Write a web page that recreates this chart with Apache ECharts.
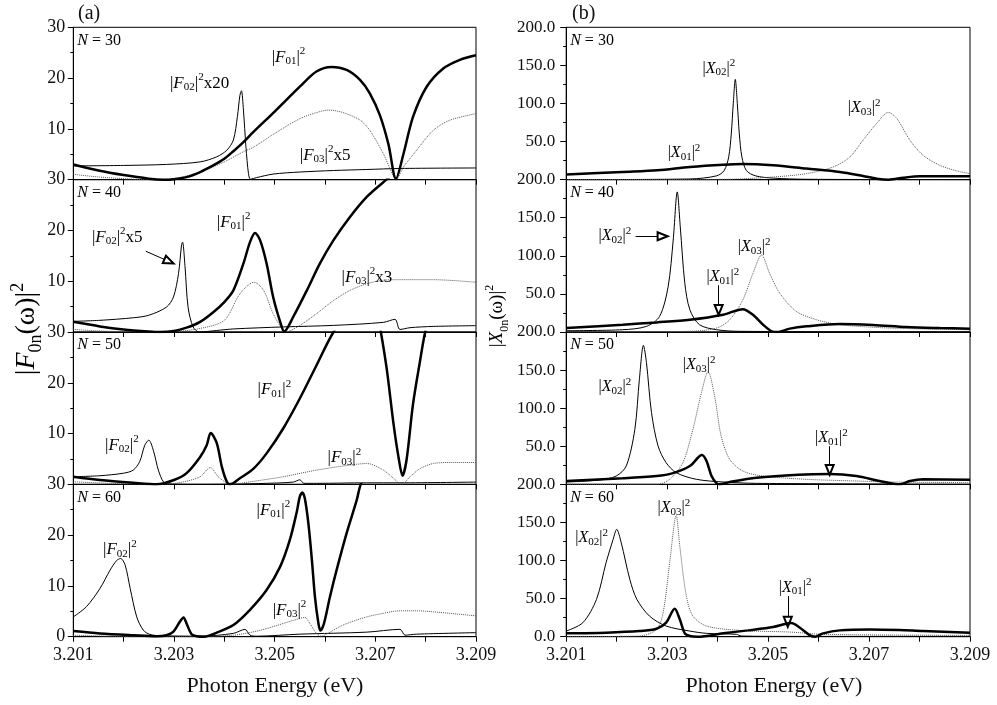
<!DOCTYPE html>
<html>
<head>
<meta charset="utf-8">
<script src="https://cdn.jsdelivr.net/npm/echarts/dist/echarts.min.js"></script>
<style>
  html, body { margin: 0; padding: 0; background: #fff; }
  #chart { width: 997px; height: 705px; }
</style>
</head>
<body>
<div id="chart"></div>
<script>
// ---- axes ----
const energyRange = [3.201, 3.209];
const energyStep = 0.001;
const energyLabels = [3.201, 3.203, 3.205, 3.207, 3.209];
const fRange = [0, 30];
const fStep = 10;
const xRange = [0, 200];
const xStep = 50;
const cavitySizes = [30, 40, 50, 60];

// ---- mode energies (vertical lines), eV ----
const modes_N30 = [3.2028, 3.2045, 3.2074];
const modes_N40 = [3.2025, 3.2035, 3.2052, 3.2075];
const modes_N50 = [3.2024, 3.2031, 3.2041, 3.2056, 3.2076];
const modes_N60 = [3.2024, 3.2028, 3.2036, 3.2046, 3.2060, 3.2076];

// ---- (a) |F0n(w)|^2, [energy, value] ----
const F01_N30 = [[3.2010,3.0],[3.2015,1.8],[3.2020,0.9],[3.2025,0.2],[3.20279,0],[3.2030,0.1],[3.20325,0.5],[3.20352,1.5],[3.20378,2.8],[3.2040,4.1],[3.20418,5.6],[3.20438,7.4],[3.20458,9.4],[3.2050,13.4],[3.2055,18.3],[3.20583,21.3],[3.20613,22.2],[3.20643,21.6],[3.2067,19.6],[3.20689,17.0],[3.20709,12.7],[3.20726,7.0],[3.20741,0.2],[3.20756,5.1],[3.20775,12.4],[3.20802,18.3],[3.20835,21.9],[3.20868,23.6],[3.209,24.5]];
const F02_N30 = [[3.2010,2.7],[3.2020,2.8],[3.20285,3.0],[3.20352,3.5],[3.20385,4.5],[3.20405,5.8],[3.20418,7.8],[3.20426,12.4],[3.20431,16.6],[3.20434,17.5],[3.20438,13.7],[3.20443,6.4],[3.20448,1.2],[3.20452,0.1],[3.20464,0.4],[3.20497,1.1],[3.2055,1.5],[3.20617,1.8],[3.20683,2.0],[3.20749,2.2],[3.209,2.3]];
const F03_N30 = [[3.2010,1.05],[3.20153,0.5],[3.20219,0.1],[3.20259,0],[3.20299,0.2],[3.20352,1.5],[3.2040,3.5],[3.20438,5.5],[3.20458,6.4],[3.2050,9.1],[3.2055,12.0],[3.20583,13.2],[3.20607,13.7],[3.20636,13.2],[3.2067,11.7],[3.20689,9.7],[3.20716,5.1],[3.20729,2.2],[3.20741,0],[3.20756,2.5],[3.20782,5.8],[3.20815,9.7],[3.20848,11.7],[3.209,13.0]];

const F01_N40 = [[3.2010,2.0],[3.20153,1.1],[3.2020,0.5],[3.2025,0.1],[3.20272,0],[3.2030,0.2],[3.20325,0.85],[3.20352,2.0],[3.20378,3.9],[3.2040,5.9],[3.20418,8.2],[3.20438,13.5],[3.20451,17.7],[3.20461,19.5],[3.20471,18.1],[3.20484,13.5],[3.20497,6.9],[3.20511,2.0],[3.20519,0.1],[3.20537,3.0],[3.20564,8.2],[3.2059,13.5],[3.20617,18.1],[3.2065,22.7],[3.20683,26.6],[3.20716,29.5],[3.20749,32],[3.20815,35],[3.209,37]];
const F02_N40 = [[3.2010,2.1],[3.20153,2.3],[3.20219,2.8],[3.2025,3.3],[3.20285,4.9],[3.20299,6.9],[3.20309,11.5],[3.20315,17.1],[3.20317,17.7],[3.20322,12.8],[3.20328,4.9],[3.20338,1.0],[3.2035,0],[3.20385,0.3],[3.20418,0.6],[3.20517,1.0],[3.20617,1.3],[3.20716,1.9],[3.20739,2.5],[3.20749,0.5],[3.20769,0.85],[3.20815,1.1],[3.209,1.25]];
const F03_N40 = [[3.2010,0.5],[3.20153,0.2],[3.20219,0],[3.2030,0.1],[3.20352,0.7],[3.2040,2.3],[3.20431,7.5],[3.20459,9.8],[3.20478,8.2],[3.20497,3.6],[3.20514,0.7],[3.20521,0],[3.2055,1.3],[3.20583,3.6],[3.20617,6.2],[3.2065,8.2],[3.20683,9.5],[3.20716,10.2],[3.20749,10.3],[3.20815,10.3],[3.209,9.8]];

const F01_N50 = [[3.2010,1.5],[3.20153,0.85],[3.20219,0.3],[3.20266,0],[3.2030,0.85],[3.20325,2.2],[3.20352,5.4],[3.20365,7.7],[3.20373,10.1],[3.20385,8.1],[3.20395,3.5],[3.20405,0.5],[3.20411,0],[3.20431,1.2],[3.20458,3.1],[3.20484,6.1],[3.20517,11.0],[3.2055,16.9],[3.20583,23.4],[3.20617,30.0],[3.2065,34],[3.20683,36],[3.20703,34],[3.20711,30],[3.20723,22.5],[3.20736,12.0],[3.20746,5.4],[3.20754,1.7],[3.20762,4.8],[3.20775,15.9],[3.20789,24.4],[3.20799,30],[3.20815,36],[3.209,40]];
const F02_N50 = [[3.2010,1.5],[3.20153,1.7],[3.2020,2.2],[3.20219,2.8],[3.20232,4.5],[3.20242,7.7],[3.2025,8.7],[3.20259,6.7],[3.20269,2.8],[3.20279,0.5],[3.20289,0.1],[3.20352,0],[3.20418,0.05],[3.20484,0.2],[3.20537,0.45],[3.2055,0.9],[3.20558,0.2],[3.20583,0.2],[3.20683,0.3],[3.20749,0.3],[3.209,0.45]];
const F03_N50 = [[3.2010,0.5],[3.20173,0.2],[3.20239,0],[3.20285,0.05],[3.20319,0.5],[3.20352,1.5],[3.20372,3.3],[3.20388,1.5],[3.20405,0.2],[3.20411,0],[3.20451,0.5],[3.20517,1.5],[3.20583,2.8],[3.2065,3.8],[3.20683,4.1],[3.20716,2.8],[3.20736,1.2],[3.20752,0],[3.20769,1.5],[3.20789,3.1],[3.20815,4.1],[3.20848,4.3],[3.209,4.3]];

const F01_N60 = [[3.2010,1.1],[3.20153,0.65],[3.20219,0.3],[3.20266,0.1],[3.20285,0.3],[3.20299,1.0],[3.20312,3.0],[3.20319,3.8],[3.20325,2.6],[3.20335,0.5],[3.20345,0.1],[3.2036,0],[3.20385,0.8],[3.20418,2.3],[3.20451,5.3],[3.20484,9.2],[3.20511,13.8],[3.2053,19.0],[3.20544,24.6],[3.2055,27.6],[3.20555,28.4],[3.2056,27.2],[3.20567,22.3],[3.20574,15.1],[3.2058,7.9],[3.20587,2.6],[3.20591,1.2],[3.20598,2.6],[3.2061,7.9],[3.20623,13.1],[3.20643,20.4],[3.20663,26.9],[3.20671,30],[3.20683,32],[3.20749,38],[3.209,45]];
const F02_N60 = [[3.2010,3.9],[3.20126,5.9],[3.20153,9.5],[3.20173,13.1],[3.20186,15.0],[3.20194,15.4],[3.20203,14.1],[3.20213,9.5],[3.20226,3.9],[3.20239,1.3],[3.20252,0.45],[3.20272,0.2],[3.20352,0.1],[3.20418,0.65],[3.20441,1.45],[3.20451,0.3],[3.20464,0.1],[3.2055,0.5],[3.20683,0.9],[3.20749,1.45],[3.20759,0.3],[3.20782,0.5],[3.209,0.8]];
const F03_N60 = [[3.2010,0.3],[3.20173,0.1],[3.20239,0],[3.20299,0.1],[3.20352,0.05],[3.20418,0.3],[3.2046,1.0],[3.20484,1.6],[3.20517,2.6],[3.2055,3.6],[3.2056,3.8],[3.2057,2.6],[3.20583,0.65],[3.20593,0.1],[3.20603,0.5],[3.20636,2.3],[3.20683,3.9],[3.20716,4.6],[3.20749,5.1],[3.20782,5.1],[3.20815,4.9],[3.20848,4.6],[3.209,4.1]];

// ---- (b) |X0n(w)|^2, [energy, value] ----
const X01_N30 = [[3.2010,6.6],[3.20212,10.1],[3.20281,12.3],[3.20345,16.7],[3.20411,19.7],[3.2045,20.6],[3.2051,18.9],[3.20576,14.5],[3.20642,10.1],[3.20688,4.8],[3.20715,1.3],[3.20739,0],[3.20768,2.6],[3.20801,4.4],[3.2084,4.4],[3.209,4.4]];
const X02_N30 = [[3.2010,0],[3.20345,0.9],[3.20398,5],[3.20413,12],[3.20422,30],[3.20427,60],[3.20431,100],[3.20435,131.6],[3.20439,100],[3.20443,60],[3.20448,30],[3.20457,12],[3.20475,5],[3.2051,2],[3.20576,0.5],[3.209,0]];
const X03_N30 = [[3.2010,0],[3.20411,0.4],[3.2051,3.5],[3.20576,7.9],[3.20629,16.7],[3.20662,29.8],[3.20688,51.8],[3.20715,73.7],[3.20738,88.2],[3.20755,80.3],[3.20781,51.8],[3.20807,32],[3.2084,18.9],[3.20874,11.4],[3.209,7.9]];

const X01_N40 = [[3.2010,5.2],[3.20212,9.6],[3.20279,12.6],[3.20345,16.1],[3.20411,22.7],[3.2045,30],[3.2047,22.7],[3.2049,9.6],[3.20507,0.9],[3.20519,0],[3.20543,4.4],[3.20576,7.4],[3.20642,10.5],[3.20708,9.2],[3.20774,6.5],[3.2084,5.2],[3.209,4.4]];
const X02_N40 = [[3.2010,1.7],[3.20212,3.0],[3.20259,7.4],[3.20285,20.5],[3.20302,59.7],[3.20312,120.7],[3.2032,183.9],[3.20326,138],[3.20335,64],[3.20345,29.2],[3.20364,9.6],[3.20398,3.0],[3.20444,0.9],[3.209,0]];
const X03_N40 = [[3.2010,0],[3.20345,0.9],[3.20398,5.2],[3.20424,16.1],[3.2045,42.3],[3.2047,77],[3.20487,101],[3.20503,77],[3.20523,51],[3.20556,27],[3.20596,16.1],[3.20642,9.6],[3.20741,5.2],[3.209,3.0]];

const X01_N50 = [[3.2010,4.4],[3.20212,7.9],[3.20279,10.9],[3.2031,14.4],[3.20345,24.1],[3.20369,38.5],[3.20378,30.6],[3.20388,10.9],[3.20398,1.3],[3.20404,0],[3.20424,3.1],[3.20477,8.8],[3.2056,12.7],[3.20622,13.6],[3.20675,10.9],[3.20721,4.4],[3.2076,0],[3.20781,4.4],[3.20807,6.6],[3.209,6.1]];
const X02_N50 = [[3.2010,3.1],[3.20166,5.7],[3.20199,10.9],[3.20219,24.1],[3.20236,72.2],[3.20245,137.9],[3.20253,182.5],[3.20259,159.7],[3.20269,94.1],[3.20282,50.3],[3.20298,28.4],[3.20318,15.3],[3.20358,6.6],[3.20411,3.1],[3.20477,1.3],[3.209,0]];
const X03_N50 = [[3.2010,0],[3.20279,0],[3.20305,6.6],[3.20331,28.4],[3.20351,72.2],[3.20368,120.4],[3.20381,147.9],[3.20394,116],[3.20407,63.5],[3.20424,32.8],[3.2045,17.5],[3.2049,10.9],[3.20576,6.6],[3.20675,4.4],[3.20741,3.1],[3.209,2.2]];

const X01_N60 = [[3.2010,4.4],[3.20179,5.3],[3.20245,7.4],[3.20279,10.5],[3.20298,18.4],[3.20315,36.8],[3.20325,22.8],[3.20335,4.4],[3.20345,0.9],[3.2036,0],[3.20411,4.4],[3.2046,8.3],[3.2051,12.7],[3.20546,17.9],[3.20563,11.8],[3.20583,1.75],[3.20593,0],[3.20609,4.4],[3.20642,8.3],[3.20702,9.6],[3.2076,8.8],[3.20807,7.4],[3.209,5.3]];
const X02_N60 = [[3.2010,7.4],[3.20133,18.4],[3.2016,49],[3.20179,97.2],[3.20193,127.8],[3.202,140.9],[3.20209,123.4],[3.20226,75.3],[3.2024,49],[3.20265,27.1],[3.20298,14.0],[3.20345,7.4],[3.20378,4.4],[3.20437,3.1],[3.20447,0.9],[3.20543,0.4],[3.209,0.4]];
const X03_N60 = [[3.2010,0],[3.20245,0.9],[3.20279,9.6],[3.20292,31.5],[3.20305,97.2],[3.20318,159.3],[3.20325,119],[3.20338,53.4],[3.20351,27.1],[3.20378,14.0],[3.20444,8.3],[3.20543,6.1],[3.20609,3.1],[3.209,1.75]];

// ---------------------------------------------------------------------------
const SERIF = 'Liberation Serif';
const INK = '#111';
const DARK_LINE = '#262626';
const GREY_LINE = '#858585';

const panels = [
  { n: cavitySizes[0], F: [F01_N30, F02_N30, F03_N30], X: [X01_N30, X02_N30, X03_N30], modes: modes_N30,
    tones: [DARK_LINE, GREY_LINE, GREY_LINE] },
  { n: cavitySizes[1], F: [F01_N40, F02_N40, F03_N40], X: [X01_N40, X02_N40, X03_N40], modes: modes_N40,
    tones: [GREY_LINE, DARK_LINE, GREY_LINE, GREY_LINE] },
  { n: cavitySizes[2], F: [F01_N50, F02_N50, F03_N50], X: [X01_N50, X02_N50, X03_N50], modes: modes_N50,
    tones: [DARK_LINE, DARK_LINE, DARK_LINE, GREY_LINE, GREY_LINE] },
  { n: cavitySizes[3], F: [F01_N60, F02_N60, F03_N60], X: [X01_N60, X02_N60, X03_N60], modes: modes_N60,
    tones: [DARK_LINE, DARK_LINE, DARK_LINE, DARK_LINE, DARK_LINE, GREY_LINE] }
];

// frame layout
const TOP0 = 27.3, PANEL_H = 152.35;
const COLUMNS = [
  { left: 73.3, width: 402.7 },
  { left: 566.2, width: 403.8 }
];

// arrows pointing at curves: [grid, [x0, y0], [x1, y1]]
const arrows = [
  [1, [3.20244, 15.9], [3.20290, 13.9]],
  [5, [3.202375, 125.7], [3.20291, 125.7]],
  [5, [3.20402, 61.4], [3.20402, 29.0]],
  [6, [3.20622, 50.1], [3.20622, 19.0]],
  [7, [3.20539, 53.3], [3.20539, 19.5]]
];

// curve captions, anchored at their left-middle point: [grid, symbol, index, factor, x, y]
const captions = [
  [0, 'F', '02', 'x20', 3.20292, 19.0], [0, 'F', '01', '', 3.20494, 24.1], [0, 'F', '03', 'x5', 3.2055, 4.8],
  [1, 'F', '02', 'x5', 3.20137, 18.7], [1, 'F', '01', '', 3.20385, 21.6], [1, 'F', '03', 'x3', 3.20633, 10.8],
  [2, 'F', '02', '', 3.20163, 7.7], [2, 'F', '01', '', 3.20466, 18.6], [2, 'F', '03', '', 3.20605, 5.2],
  [3, 'F', '02', '', 3.20159, 17.1], [3, 'F', '01', '', 3.20464, 24.9], [3, 'F', '03', '', 3.20496, 5.2],
  [4, 'X', '02', '', 3.2037, 146], [4, 'X', '01', '', 3.20301, 34.6], [4, 'X', '03', '', 3.20658, 93.7],
  [5, 'X', '02', '', 3.20164, 125.7], [5, 'X', '03', '', 3.2044, 111.3], [5, 'X', '01', '', 3.20378, 71.9],
  [6, 'X', '02', '', 3.20164, 127.6], [6, 'X', '03', '', 3.20331, 156.4], [6, 'X', '01', '', 3.20593, 60.6],
  [7, 'X', '02', '', 3.20118, 129.4], [7, 'X', '03', '', 3.20281, 168.8], [7, 'X', '01', '', 3.20521, 63.8]
];

function energyLabel(v) {
  const hit = energyLabels.find(e => Math.abs(e - v) < 1e-7);
  return hit === undefined ? '' : hit.toFixed(3);
}

const grid = [], xAxis = [], yAxis = [], series = [];

panels.forEach((p, r) => {
  [0, 1].forEach(c => {
    const gi = c * 4 + r;
    const bottomRow = r === panels.length - 1;
    grid[gi] = {
      left: COLUMNS[c].left, width: COLUMNS[c].width,
      top: TOP0 + r * PANEL_H, height: PANEL_H,
      show: true, borderColor: '#000', borderWidth: 1, backgroundColor: 'transparent'
    };
    xAxis[gi] = {
      type: 'value', gridIndex: gi, position: 'bottom',
      min: energyRange[0], max: energyRange[1], interval: energyStep,
      axisLine: { show: true, onZero: false, lineStyle: { color: '#000', width: 1 } },
      axisTick: { show: true, inside: false, length: 5, lineStyle: { color: '#000', width: 1 } },
      splitLine: { show: false },
      axisLabel: {
        show: bottomRow, margin: 10, color: INK, fontFamily: SERIF, fontSize: 18,
        formatter: energyLabel
      }
    };
    const isX = c === 1;
    yAxis[gi] = {
      type: 'value', gridIndex: gi,
      min: isX ? xRange[0] : fRange[0], max: isX ? xRange[1] : fRange[1],
      interval: isX ? xStep : fStep,
      axisLine: { show: true, onZero: false, lineStyle: { color: '#000', width: 1 } },
      axisTick: { show: true, inside: false, length: isX ? 6 : 5.5, lineStyle: { color: '#000', width: 1 } },
      minorTick: { show: true, splitNumber: 2, length: 3, lineStyle: { color: '#000', width: 1 } },
      splitLine: { show: false },
      minorSplitLine: { show: false },
      axisLabel: {
        margin: isX ? 11 : 8, color: INK, fontFamily: SERIF, fontSize: isX ? 17 : 18,
        formatter: v => {
          if (v === 0 && !bottomRow) return '';
          return isX ? v.toFixed(1) : String(Math.round(v));
        }
      }
    };

    const curves = isX ? p.X : p.F;
    const styles = [
      { color: '#000', width: 2.5, type: 'solid' },
      { color: '#000', width: 1, type: 'solid' },
      { color: '#555', width: 1, type: 'dotted' }
    ];
    curves.forEach((data, k) => {
      const s = {
        type: 'line', xAxisIndex: gi, yAxisIndex: gi, data: data,
        showSymbol: false, symbol: 'none', smooth: 0.3,
        silent: true, clip: true, z: 3 + (k === 0 ? 2 : 0),
        lineStyle: styles[k]
      };
      if (k === 2) {
        s.markLine = {
          silent: true, symbol: 'none', label: { show: false }, animation: false,
          data: p.modes.map((m, j) => ({ xAxis: m, lineStyle: { color: p.tones[j], width: 1.1, type: 'solid' } }))
        };
      }
      if (k === 0) {
        const mine = arrows.filter(a => a[0] === gi);
        if (mine.length) {
          s.markLine = {
            silent: true, symbol: ['none', 'emptyTriangle'], symbolSize: [8, 10],
            label: { show: false }, animation: false,
            lineStyle: { color: '#000', width: 1, type: 'solid' },
            data: mine.map(a => [{ coord: a[1] }, { coord: a[2] }])
          };
        }
      }
      series.push(s);
    });
  });
});

const chart = echarts.init(document.getElementById('chart'), null, { renderer: 'canvas' });
chart.setOption({
  animation: false,
  backgroundColor: '#fff',
  grid, xAxis, yAxis, series
});

// ---- text layer ----
function captionRich(size, small) {
  return {
    b: { fontFamily: SERIF, fontSize: size, lineHeight: size + 6, color: INK },
    i: { fontFamily: SERIF, fontSize: size, fontStyle: 'italic', lineHeight: size + 6, color: INK },
    s: { fontFamily: SERIF, fontSize: small, verticalAlign: 'bottom', padding: [0, 0, 2, 0], color: INK },
    p: { fontFamily: SERIF, fontSize: small, verticalAlign: 'top', color: INK }
  };
}

const graphic = [];
captions.forEach(([gi, sym, idx, factor, x, y]) => {
  const pt = chart.convertToPixel({ xAxisIndex: gi, yAxisIndex: gi }, [x, y]);
  const isX = sym === 'X';
  const size = isX ? 16 : 17;
  let text = '{b||}{i|' + sym + '}{s|' + idx + '}{b||}{p|2}';
  if (factor) text += '{b|' + factor + '}';
  graphic.push({
    type: 'text', x: pt[0], y: pt[1], silent: true, z: 50,
    style: { text, rich: captionRich(size, 11), align: 'left', verticalAlign: 'middle' }
  });
});

// N = .. tags
panels.forEach((p, r) => {
  [0, 1].forEach(c => {
    graphic.push({
      type: 'text', x: COLUMNS[c].left + 4, y: TOP0 + r * PANEL_H + 13, silent: true, z: 50,
      style: {
        text: '{i|N}{b| = ' + p.n + '}',
        rich: {
          i: { fontFamily: SERIF, fontSize: 16, fontStyle: 'italic', color: INK },
          b: { fontFamily: SERIF, fontSize: 16, color: INK }
        },
        align: 'left', verticalAlign: 'middle'
      }
    });
  });
});

// panel letters
[['(a)', 78], ['(b)', 572]].forEach(([t, x]) => {
  graphic.push({
    type: 'text', x, y: 14, silent: true,
    style: { text: t, fontFamily: SERIF, fontSize: 20, fill: INK, align: 'left', verticalAlign: 'middle' }
  });
});

// horizontal titles
[275, 774].forEach(cx => {
  graphic.push({
    type: 'text', x: cx, y: 686, silent: true,
    style: { text: 'Photon Energy (eV)', fontFamily: SERIF, fontSize: 22, fill: INK, align: 'center', verticalAlign: 'middle' }
  });
});

// vertical titles
function yTitle(sym, size, small, cx, cy) {
  return {
    type: 'text', x: cx, y: cy, rotation: Math.PI / 2, silent: true,
    style: {
      text: '{b||}{i|' + sym + '}{s|0n}{b|(ω)|}{p|2}',
      rich: {
        b: { fontFamily: SERIF, fontSize: size, lineHeight: size + 8, color: INK },
        i: { fontFamily: SERIF, fontSize: size, fontStyle: 'italic', lineHeight: size + 8, color: INK },
        s: { fontFamily: SERIF, fontSize: small, verticalAlign: 'bottom', color: INK },
        p: { fontFamily: SERIF, fontSize: small, verticalAlign: 'top', color: INK }
      },
      align: 'center', verticalAlign: 'middle'
    }
  };
}
graphic.push(yTitle('F', 28, 18, 27, 329));
graphic.push(yTitle('X', 19, 12, 497, 316));

chart.setOption({ graphic });
</script>
</body>
</html>
